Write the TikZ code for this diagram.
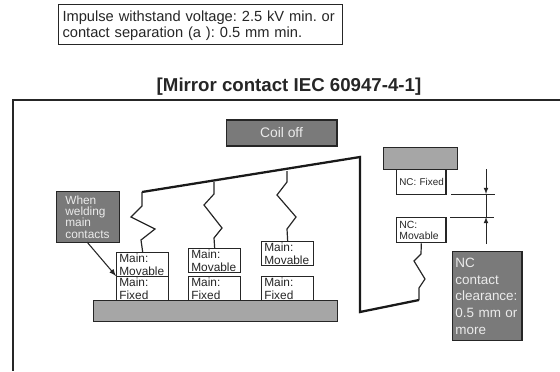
\documentclass[tikz,border=0pt]{standalone}
\usepackage{fontspec}
\setmainfont{Liberation Sans}
\frenchspacing
\tikzset{every path/.style={line width=0.8pt,color=black!85}}
\tikzset{
  textbox/.style={rectangle,draw,fill=white,line width=1pt,inner xsep=2pt,inner ysep=0pt,align=left,anchor=north west},
  smalltext/.style={font=\fontsize{8.9}{9.2}\selectfont},
  darkbox/.style={textbox,fill=black!52,text=white!92!black},
  lever/.style={line width=1.7pt,line join=miter,color=black!90},
  spring/.style={line width=0.9pt}
}
\newcommand{\contactbox}[5]{
  \node[textbox,smalltext,text width=35pt,minimum width=39pt,minimum height=#5] (#1) at (#2,#3) {#4};
}
\begin{document}
\begin{tikzpicture}[x=0.75pt,y=-0.75pt]
    \useasboundingbox (0,0) rectangle (560,371);

    % Frame
    \coordinate (frametop) at (13,100);
    \draw (560,100) -- (frametop) -- (13,371);
    \node[textbox,line width=0.8pt,text width=207pt,minimum width=213pt,minimum height=30pt,inner xsep=3pt,font=\fontsize{11}{12}\selectfont] (impulse) at (58,3.5) {\rule{0pt}{11pt}Impulse withstand voltage: 2.5 kV min. or\\contact separation (a ): 0.5 mm min.};
    \node[font=\fontsize{14}{16}\selectfont\bfseries] (title) at (289,87) {[Mirror contact IEC 60947-4-1]};
    \node[darkbox,anchor=center,align=center,minimum width=83pt,minimum height=19.5pt,font=\fontsize{10.4}{12}\selectfont] (coil) at (281.5,133) {Coil off};

    % Base and main contacts
    \node[rectangle,draw,fill=black!35,line width=1pt,minimum width=183pt,minimum height=15.8pt,anchor=north west] (base) at (93,300) {};
    \contactbox{fixa}{116}{276}{Main:\\Fixed}{18pt}
    \contactbox{mova}{116}{252}{Main:\\Movable}{18pt}
    \contactbox{fixb}{188}{276}{Main:\\Fixed}{18pt}
    \contactbox{movb}{188}{248}{Main:\\Movable}{18pt}
    \contactbox{fixc}{261}{276}{Main:\\Fixed}{18pt}
    \contactbox{movc}{261}{241}{Main:\\Movable}{18pt}

    % Lever
    \coordinate (levera) at (142,192);
    \coordinate (leverb) at (214,182);
    \coordinate (leverc) at (287,171);
    \coordinate (leverd) at (419,300);
    \draw[lever] (levera) -- (360,157) -- (360,312) -- (leverd);

    % Springs
    \draw[spring] (levera) -- (142,206) -- (131,217) -- (155,229) -- (141,240) -- (mova.north);
    \draw[spring] (leverb) -- (214,194) -- (204,205) -- (222,228) -- (214,238) -- (movb.north);
    \draw[spring] (leverc) -- (287,182) -- (277,195) -- (296,217) -- (287,229) -- (movc.north);

    % NC contact
    \node[rectangle,draw,fill=black!35,line width=1pt,minimum width=55.5pt,minimum height=16.5pt,anchor=north west] (ncbar) at (383,147) {};
    \node[textbox,text width=33pt,minimum width=37pt,minimum height=18.7pt,font=\fontsize{7.4}{8}\selectfont] (ncfix) at (396,169) {NC:~Fixed};
    \node[textbox,text width=33pt,minimum width=37pt,minimum height=18.7pt,font=\fontsize{7.8}{8}\selectfont] (ncmov) at (396,217) {NC:\\Movable};
    \draw[spring] (ncmov.south) -- (421,254) -- (414,261) -- (425,279) -- (419,288) -- (leverd);

    % Clearance
    \coordinate (cleara) at (451,194);
    \coordinate (clearb) at (495,194);
    \coordinate (clearc) at (450,217);
    \coordinate (cleard) at (494,217);
    \coordinate (dimtop) at (486,169);
    \coordinate (dimbot) at (486,244);
    \coordinate (dimup) at (486,194);
    \coordinate (dimdown) at (486,217);
    \draw[line width=0.6pt] (cleara) -- (clearb);
    \draw[line width=0.6pt] (clearc) -- (cleard);
    \draw[-latex,line width=0.6pt] (dimtop) -- (dimup);
    \draw[-latex,line width=0.6pt] (dimbot) -- (dimdown);
    \draw[line width=0.6pt] (dimup) -- (dimdown);
    \node[darkbox,text width=48pt,minimum width=52pt,minimum height=66.7pt,font=\fontsize{10.1}{12.5}\selectfont] (ncnote) at (452,251) {NC\\contact\\clearance:\\0.5 mm or\\more};

    % Welding note
    \node[darkbox,text width=34pt,minimum width=47pt,minimum height=38pt,inner xsep=6.5pt,font=\fontsize{8.9}{8.5}\selectfont] (weld) at (56,191) {When\\welding\\main\\contacts};
    \coordinate (weldfrom) at (87,242);
    \draw[-latex] (weldfrom) -- (fixa.north west);
  \end{tikzpicture}
\end{document}
